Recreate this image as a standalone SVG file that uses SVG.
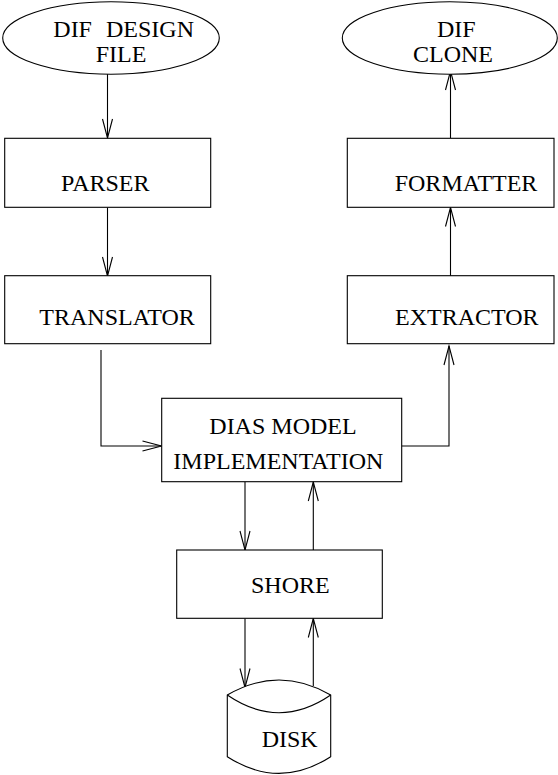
<svg xmlns="http://www.w3.org/2000/svg" width="558" height="775" viewBox="0 0 558 775">
  <style>
    .shape { fill: #fff; stroke: #000; stroke-width: 1.1; }
    .label { font-family: "Liberation Serif", "Times New Roman", serif; font-size: 24px; fill: #000; }
    .wire { fill: none; stroke: #000; stroke-width: 1.1; marker-end: url(#vee); }
  </style>
  <defs>
    <marker id="vee" markerUnits="userSpaceOnUse" markerWidth="22" markerHeight="14" viewBox="-21 -7 22 14" refX="0" refY="0" orient="auto" overflow="visible">
      <path d="M-19,-5 L0,0 L-19,5" fill="none" stroke="#000" stroke-width="1.1"/>
    </marker>
  </defs>
  <rect width="558" height="775" fill="#fff"/>

  <g id="connectors">
    <path class="wire" d="M107.5,71 V138"/>
    <path class="wire" d="M107.5,207.5 V276"/>
    <path class="wire" d="M101,350 V446 H161.5"/>
    <path class="wire" d="M401.5,446 H449 V346"/>
    <path class="wire" d="M450.5,276 V207.5"/>
    <path class="wire" d="M450.5,138 V71"/>
    <path class="wire" d="M245,482 V550"/>
    <path class="wire" d="M313.3,550 V482"/>
    <path class="wire" d="M245,618.5 V687.5"/>
    <path class="wire" d="M313.3,686 V618.5"/>
  </g>

  <g id="dif-design-file">
    <ellipse class="shape" cx="111" cy="38" rx="108.3" ry="36.2"/>
    <text class="label" x="53.3" y="37.3">DIF</text>
    <text class="label" x="106" y="37.3">DESIGN</text>
    <text class="label" x="95.7" y="62.3">FILE</text>
  </g>

  <g id="dif-clone">
    <ellipse class="shape" cx="449.8" cy="38" rx="107.5" ry="36.2"/>
    <text class="label" x="437" y="37.3">DIF</text>
    <text class="label" x="413" y="62.3">CLONE</text>
  </g>

  <g id="parser">
    <rect class="shape" x="4.7" y="138.3" width="206" height="69"/>
    <text class="label" x="61" y="190.7">PARSER</text>
  </g>

  <g id="formatter">
    <rect class="shape" x="347.3" y="138.3" width="206.7" height="69"/>
    <text class="label" x="394.7" y="190.7">FORMATTER</text>
  </g>

  <g id="translator">
    <rect class="shape" x="4.7" y="275.7" width="206" height="68"/>
    <text class="label" x="39.3" y="325">TRANSLATOR</text>
  </g>

  <g id="extractor">
    <rect class="shape" x="347.3" y="275.7" width="206.7" height="68"/>
    <text class="label" x="395" y="325">EXTRACTOR</text>
  </g>

  <g id="dias-model">
    <rect class="shape" x="161.7" y="398.3" width="240" height="83.4"/>
    <text class="label" x="209.3" y="434">DIAS MODEL</text>
    <text class="label" x="173.3" y="469.3">IMPLEMENTATION</text>
  </g>

  <g id="shore">
    <rect class="shape" x="176.7" y="550" width="205.6" height="68.3"/>
    <text class="label" x="251" y="593.3">SHORE</text>
  </g>

  <g id="disk">
    <path class="shape" d="M227.3,695 Q279,665 330.7,695 V756.7 Q279,790 227.3,756.7 Z"/>
    <path d="M227.3,695 Q279,730.4 330.7,695" fill="none" stroke="#000" stroke-width="1.1"/>
    <text class="label" x="261.7" y="747.3">DISK</text>
  </g>
</svg>
